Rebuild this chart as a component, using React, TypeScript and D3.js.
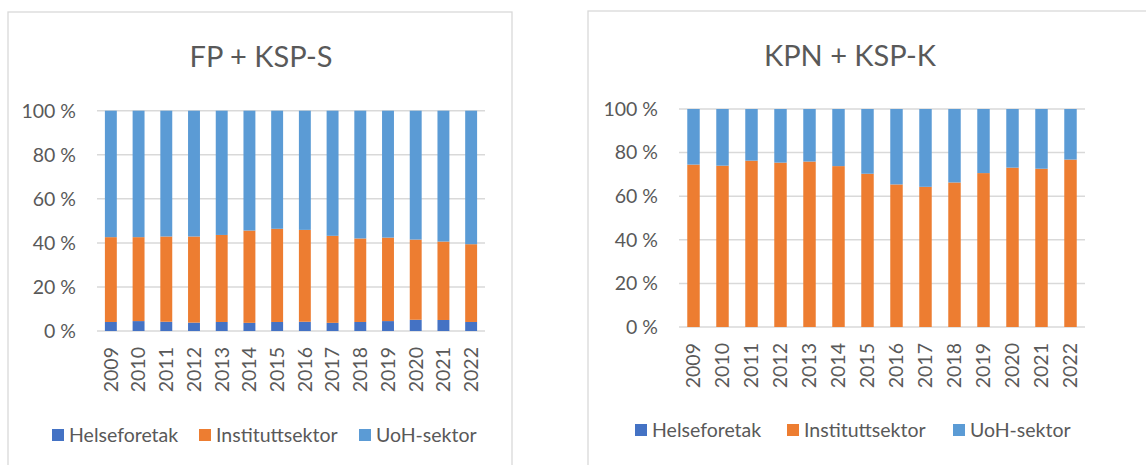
import * as React from "react";
import { scaleBand, scaleLinear, stack } from "d3";

const years = ["2009", "2010", "2011", "2012", "2013", "2014", "2015", "2016", "2017", "2018", "2019", "2020", "2021", "2022"];
const sectors = ["Helseforetak", "Instituttsektor", "UoH-sektor"];
const sectorColors = ["#4472C4", "#ED7D31", "#5B9BD5"];
const yTicks = [0, 20, 40, 60, 80, 100];

// FP + KSP-S, share in percent
const fpHelse = [4.1, 4.5, 4.2, 3.8, 4.1, 3.7, 4.1, 4.2, 3.7, 4.1, 4.5, 5.1, 5.0, 4.1];
const fpInstitutt = [38.5, 38.1, 38.7, 39.1, 39.5, 41.9, 42.3, 41.7, 39.5, 37.9, 37.9, 36.4, 35.6, 35.3];
const fpUoH = [57.4, 57.4, 57.1, 57.1, 56.4, 54.4, 53.6, 54.1, 56.8, 58.0, 57.6, 58.5, 59.4, 60.6];

// KPN + KSP-K
const kpnHelse = [0, 0, 0, 0, 0, 0, 0, 0, 0, 0, 0, 0, 0, 0];
const kpnInstitutt = [74.5, 74.0, 76.3, 75.4, 75.9, 73.8, 70.3, 65.4, 64.3, 66.3, 70.6, 73.1, 72.6, 76.8];
const kpnUoH = [25.5, 26.0, 23.7, 24.6, 24.1, 26.2, 29.7, 34.6, 35.7, 33.7, 29.4, 26.9, 27.4, 23.2];

const FONT = "Lato, 'Open Sans', sans-serif";
const TEXT = "#595959";
const GRID = "#D9D9D9";

interface PanelProps {
  title: string;
  series: number[][];
  box: { x: number; y: number; w: number; h: number };
  plot: { left: number; right: number; top: number; bottom: number };
  titleX: number;
  titleY: number;
  tickX: number;
  yearY: number;
  legendY: number;
  legendX: number[];
}

const Panel = ({ title, series, box, plot, titleX, titleY, tickX, yearY, legendY, legendX }: PanelProps) => {
  const x = scaleBand<string>().domain(years).range([plot.left, plot.right]).paddingInner(0.57).paddingOuter(0.285);
  const y = scaleLinear().domain([0, 100]).range([plot.bottom, plot.top]);
  const rows = years.map((yr, i) => {
    const r: any = { year: yr };
    sectors.forEach((s, k) => (r[s] = series[k][i]));
    return r;
  });
  const layers = stack<any>().keys(sectors)(rows);

  return (
    <g>
      <rect x={box.x} y={box.y} width={box.w} height={box.h} fill="#fff" stroke={GRID} strokeWidth={1.3} />
      <text x={titleX} y={titleY} textAnchor="middle" fontFamily={FONT} fontSize={29} fill={TEXT}>
        {title}
      </text>
      {yTicks.map(t => (
        <g key={t}>
          <line x1={plot.left} x2={plot.right} y1={y(t)} y2={y(t)} stroke={GRID} strokeWidth={1.5} />
          <text x={tickX} y={y(t)} dy="0.35em" textAnchor="end" fontFamily={FONT} fontSize={19.5} fill={TEXT}>
            {`${t} %`}
          </text>
        </g>
      ))}
      {layers.map((layer, k) =>
        layer.map((d, i) =>
          d[1] - d[0] > 0 ? (
            <rect
              key={`${k}-${i}`}
              x={x(years[i])}
              y={y(d[1])}
              width={x.bandwidth()}
              height={y(d[0]) - y(d[1])}
              fill={sectorColors[k]}
            />
          ) : null
        )
      )}
      {years.map(yr => (
        <text
          key={yr}
          transform={`translate(${(x(yr) as number) + x.bandwidth() / 2},${yearY}) rotate(-90)`}
          textAnchor="end"
          dy="0.35em"
          fontFamily={FONT}
          fontSize={19.5}
          fill={TEXT}
        >
          {yr}
        </text>
      ))}
      {sectors.map((s, k) => (
        <g key={s} transform={`translate(${legendX[k]},${legendY})`}>
          <rect x={0} y={-6} width={12} height={12} fill={sectorColors[k]} />
          <text x={17} y={0} dy="0.35em" fontFamily={FONT} fontSize={19.5} fill={TEXT}>
            {s}
          </text>
        </g>
      ))}
    </g>
  );
};

export default function App() {
  return (
    <svg width={1146} height={465} style={{ position: "absolute", left: 0, top: 0, display: "block" }}>
      <rect width={1146} height={465} fill="#fff" />
      <Panel
        title="FP + KSP-S"
        series={[fpHelse, fpInstitutt, fpUoH]}
        box={{ x: 8, y: 12, w: 504, h: 470 }}
        plot={{ left: 97, right: 485, top: 110.7, bottom: 331 }}
        titleX={261}
        titleY={67}
        tickX={76}
        yearY={347}
        legendY={435}
        legendX={[52, 199, 359]}
      />
      <Panel
        title="KPN + KSP-K"
        series={[kpnHelse, kpnInstitutt, kpnUoH]}
        box={{ x: 588, y: 11, w: 580, h: 470 }}
        plot={{ left: 679, right: 1085, top: 109, bottom: 327 }}
        titleX={850}
        titleY={66}
        tickX={658}
        yearY={343}
        legendY={430}
        legendX={[635, 787, 953]}
      />
    </svg>
  );
}
